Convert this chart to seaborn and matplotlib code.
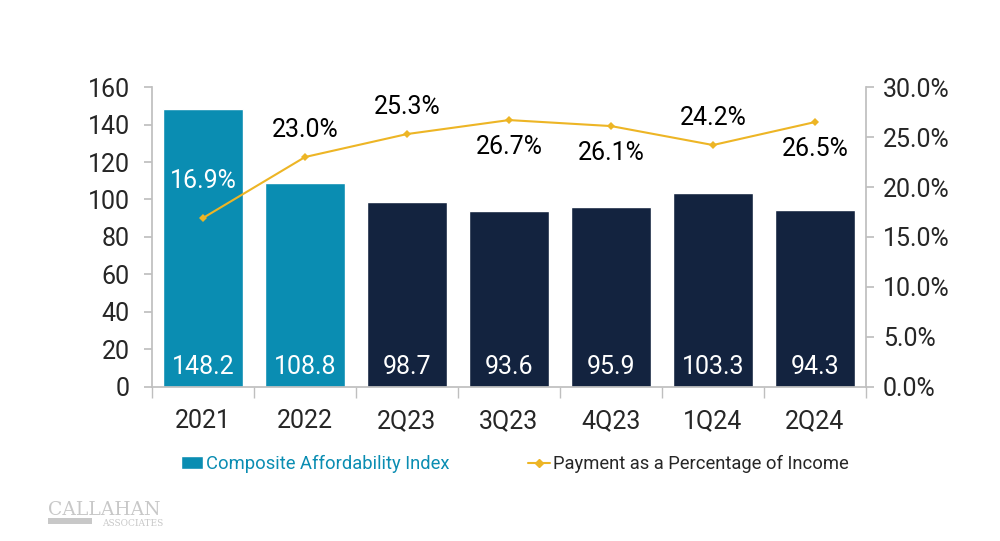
import matplotlib
matplotlib.use('Agg')
import matplotlib.pyplot as plt
import matplotlib.ticker as mticker
from matplotlib.lines import Line2D
from matplotlib.patches import Patch, Rectangle
import seaborn as sns
import pandas as pd

# ---- data ----
periods = ['2021', '2022', '2Q23', '3Q23', '4Q23', '1Q24', '2Q24']
cai = [148.2, 108.8, 98.7, 93.6, 95.9, 103.3, 94.3]
pct_income = [16.9, 23.0, 25.3, 26.7, 26.1, 24.2, 26.5]
label_below = [False, False, False, True, True, False, True]

TEAL = '#0A8DB2'
NAVY = '#13233F'
GOLD = '#EDB525'
GREY = '#BFBFBF'

sns.set_theme(style='white')
plt.rcParams['font.family'] = ['Roboto', 'DejaVu Sans']

df = pd.DataFrame({'period': periods, 'cai': cai, 'pct': pct_income})
bar_colors = [TEAL, TEAL] + [NAVY] * 5

fig = plt.figure(figsize=(10, 5.41), dpi=100)
ax = fig.add_axes([0.152, 0.285, 0.714, 0.554])

sns.barplot(data=df, x='period', y='cai', hue='period', palette=bar_colors,
            legend=False, width=0.78, saturation=1, ax=ax)
ax.set_ylim(0, 160)
ax.set_yticks(range(0, 161, 20))
ax.set_xlim(-0.5, len(periods) - 0.5)
ax.set_xlabel('')
ax.set_ylabel('')

for i, v in enumerate(cai):
    ax.text(i, 4, f'{v:.1f}', ha='center', va='bottom', color='white', fontsize=18)

ax2 = ax.twinx()
sns.lineplot(x=list(range(len(periods))), y=pct_income, color=GOLD, marker='D',
             markersize=4, markeredgewidth=0, linewidth=1.5, ax=ax2)
ax2.set_ylim(0, 30)
ax2.set_yticks(range(0, 31, 5))
ax2.yaxis.set_major_formatter(mticker.FuncFormatter(lambda v, _: f'{v:.1f}%'))
for i, (v, below) in enumerate(zip(pct_income, label_below)):
    color = 'white' if i == 0 else 'black'
    off = -11 if below else 11
    if i == 0:
        off = 18
    ax2.annotate(f'{v:.1f}%', (i, v), textcoords='offset points', xytext=(0, off),
                 ha='center', va='top' if below else 'bottom', fontsize=18, color=color)

for a in (ax, ax2):
    for s in a.spines.values():
        s.set_visible(False)
ax.spines['left'].set_visible(True)
ax.spines['left'].set_color(GREY)
ax.spines['bottom'].set_visible(True)
ax.spines['bottom'].set_color(GREY)
ax2.spines['right'].set_visible(True)
ax2.spines['right'].set_color(GREY)

ax.tick_params(axis='y', left=True, length=6, color=GREY, labelsize=18, pad=10)
ax2.tick_params(axis='y', right=True, length=6, color=GREY, labelsize=18, pad=6)
ax.tick_params(axis='x', bottom=False, labelsize=18, pad=10)
# category separator ticks on the x axis
ax.set_xticks([i + 0.5 for i in range(-1, len(periods))], minor=True)
ax.tick_params(axis='x', which='minor', bottom=True, length=8, color=GREY, direction='out')

handles = [Patch(facecolor=TEAL, label='Composite Affordability Index'),
           Line2D([0], [0], color=GOLD, marker='D', markersize=4, linewidth=1.5,
                  label='Payment as a Percentage of Income')]
leg = fig.legend(handles=handles, loc='center', bbox_to_anchor=(0.515, 0.142), ncol=2,
                 frameon=False, fontsize=13.2, handlelength=1.2, handletextpad=0.15,
                 columnspacing=4.3)
leg.get_texts()[0].set_color(TEAL)

# watermark
fig.text(0.048, 0.048, 'CALLAHAN', fontsize=13.5, color='#C8C8C8', family='DejaVu Serif')
fig.text(0.163, 0.028, 'ASSOCIATES', fontsize=6.5, color='#C8C8C8', family='DejaVu Serif',
         ha='right')
fig.patches.append(Rectangle((0.048, 0.031), 0.044, 0.012, transform=fig.transFigure,
                             facecolor='#C8C8C8', edgecolor='none'))

fig.savefig('out.png', dpi=100, facecolor='white')
